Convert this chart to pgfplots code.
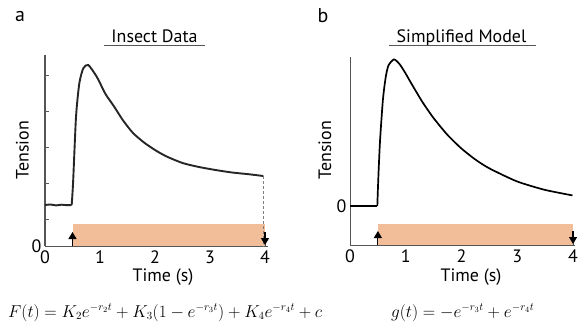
\documentclass[border=0pt]{standalone}
\usepackage{fontspec}
\setmainfont{PT Sans}
\usepackage{pgfplots}
\pgfplotsset{compat=1.18}
\usetikzlibrary{arrows.meta}
\definecolor{barorange}{RGB}{242,190,153}
\definecolor{axgray}{RGB}{85,85,85}
\newcommand{\lab}{\fontsize{18}{20}\selectfont}
\begin{document}
\begin{tikzpicture}
\path[use as bounding box] (0,0) rectangle (582bp,-325bp);
\pgfplotsset{
  common/.style={
    scale only axis, clip=false,
    axis x line*=bottom, axis y line*=left,
    x axis line style={axgray, line width=0.9bp},
    tick style={axgray, line width=0.8bp},
    tick align=inside, major tick length=3.5bp,
    ticklabel style={font=\lab},
    /pgf/number format/assume math mode=true,
    xtick={0,1,2,3,4},
  }
}
% ---------------- panel a ----------------
\begin{axis}[common,
  at={(45bp,-246bp)}, anchor=south west,
  width=222.75bp, height=191bp,
  xmin=0, xmax=4.05, ymin=0, ymax=191,
  y axis line style={axgray, line width=1.6bp},
  ytick={26.7,62.7,98.7,134.7,170.7}, yticklabels={},
  extra y ticks={0}, extra y tick labels={0},
  extra y tick style={ytick style={draw=none}},
  xticklabel style={yshift=-1bp},
]
\addplot[fill=barorange, draw=none] coordinates {(0.5,0) (4,0) (4,22) (0.5,22)} -- cycle;
\addplot[black!85, line width=1.9bp, smooth, tension=0.3] coordinates {
(0.0,41) (0.1,41.5) (0.2,40.6) (0.3,41.3) (0.4,40.8) (0.485,41)
};
\addplot[black!85, line width=1.9bp, smooth, tension=0.4] coordinates {
(0.485,41) (0.51,62.7) (0.564,129.3) (0.624,162.7) (0.696,177.7) (0.787,181)
(0.94,169.3) (1.1,152) (1.25,140) (1.42,125.5) (1.6,113) (1.8,103.5) (2.0,96)
(2.2,89.8) (2.5,83) (2.8,79) (3.1,76) (3.4,73.5) (3.7,71.8) (3.97,70)
};
\addplot[gray, line width=1bp, densely dashed] coordinates {(3.98,70) (3.98,0)};
\addplot[black, line width=1.2bp, -{Triangle[width=8bp,length=7bp]}] coordinates {(0.5,0) (0.5,14)};
\addplot[black, line width=1.2bp, -{Triangle[width=8bp,length=7bp]}] coordinates {(4,14) (4,1)};
\end{axis}
% ---------------- panel b ----------------
\begin{axis}[common,
  at={(350bp,-245bp)}, anchor=south west,
  width=224.7bp, height=188bp,
  xmin=0, xmax=4.03, ymin=-39, ymax=149,
  y axis line style={axgray, line width=0.9bp},
  ytick={0}, yticklabels={0},
  ytick style={draw=none},
  xticklabel style={yshift=-1bp},
]
\addplot[fill=barorange, draw=none] coordinates {(0.5,-39) (4,-39) (4,-18) (0.5,-18)} -- cycle;
\addplot[black, line width=1.7bp] coordinates {(0,0) (0.49,0)};
\addplot[black, line width=1.7bp, smooth, tension=0.4] coordinates {
(0.49,0) (0.50,16.1) (0.515,37.4) (0.54,66.5) (0.59,106.1) (0.64,128.7) (0.69,140.6)
(0.79,146.6) (0.89,141.8) (0.99,133.2) (1.09,123.5) (1.29,104.8) (1.49,88.6)
(1.74,71.6) (1.99,57.9) (2.24,46.8) (2.49,37.9) (2.99,24.7) (3.49,16.2) (3.99,10.6)
};
\addplot[black, line width=1.2bp, -{Triangle[width=8bp,length=7bp]}] coordinates {(0.5,-39) (0.5,-25)};
\addplot[black, line width=1.2bp, -{Triangle[width=8bp,length=7bp]}] coordinates {(4,-25) (4,-38)};
\end{axis}
% ---------------- texts ----------------
\node[font=\fontsize{20}{22}\selectfont] at (20bp,-17bp) {a};
\node[font=\fontsize{20}{22}\selectfont] at (323bp,-16bp) {b};
\node[font=\lab, anchor=base] at (154.5bp,-42bp) {Insect Data};
\draw[axgray, line width=0.9bp] (104bp,-45.5bp) -- (205bp,-45.5bp);
\node[font=\lab, anchor=base] at (461.5bp,-42bp) {Simplified Model};
\draw[axgray, line width=0.9bp] (389bp,-45.5bp) -- (536bp,-45.5bp);
\node[font=\lab, rotate=90] at (22.5bp,-150bp) {Tension};
\node[font=\lab, rotate=90] at (325bp,-150bp) {Tension};
\node[font=\lab] at (163bp,-277bp) {Time (s)};
\node[font=\lab] at (471bp,-277bp) {Time (s)};
\node[font=\fontsize{16}{18}\selectfont, anchor=base west, inner sep=0pt] at (8bp,-317bp)
  {$F(t) = K_2e^{-r_2t} + K_3(1-e^{-r_3t}) + K_4e^{-r_4t} + c$};
\node[font=\fontsize{16}{18}\selectfont, anchor=base west, inner sep=0pt] at (391bp,-317bp)
  {$g(t) = -e^{-r_3t} + e^{-r_4t}$};
\end{tikzpicture}
\end{document}
